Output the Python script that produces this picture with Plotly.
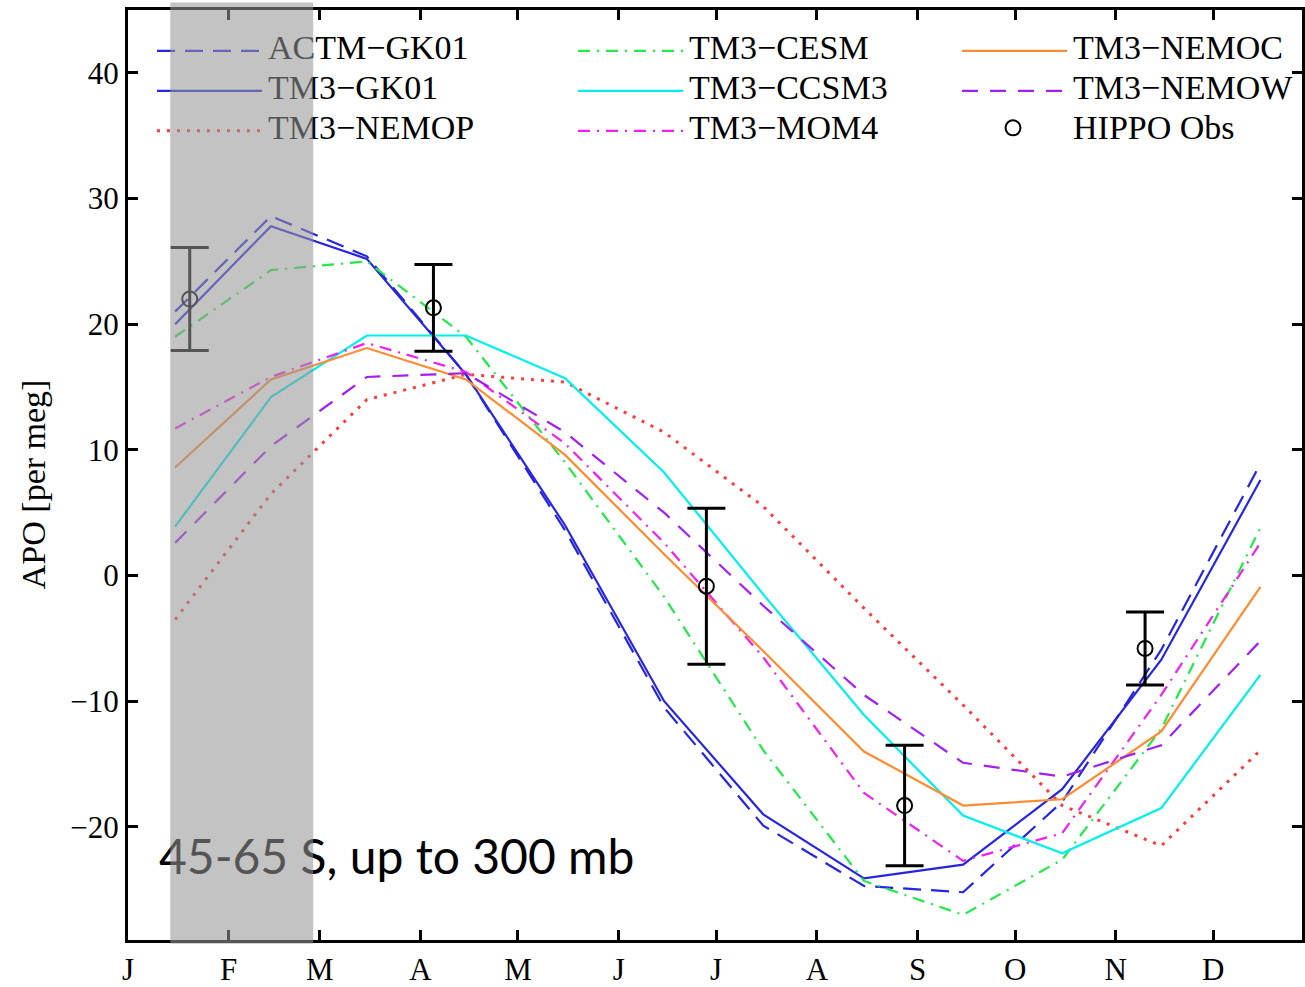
import plotly.graph_objects as go

# Month axis (day of year)
months = ["J", "F", "M", "A", "M", "J", "J", "A", "S", "O", "N", "D"]
month_start = [1, 32, 60, 91, 121, 152, 182, 213, 244, 274, 305, 335]
month_mid = [15.5, 45, 74.5, 105, 135.5, 166, 196.5, 227.5, 258, 288.5, 319, 349.5]

# Modelled APO seasonal cycles [per meg]
actm_gk01 = [21.0, 28.6, 25.4, 16.0, 3.6, -10.5, -19.9, -24.7, -25.2, -18.0, -5.9, 8.9]
tm3_gk01 = [20.0, 27.8, 25.2, 16.0, 4.0, -10.0, -19.0, -24.1, -23.0, -17.0, -6.7, 7.6]
tm3_nemop = [-3.5, 6.5, 14.0, 16.0, 15.4, 11.4, 5.5, -2.6, -10.3, -18.3, -21.5, -13.9]
tm3_cesm = [19.0, 24.3, 25.0, 19.0, 9.0, -1.7, -13.9, -24.3, -27.0, -22.6, -12.2, 3.8]
tm3_ccsm3 = [3.9, 14.2, 19.1, 19.1, 15.7, 8.2, -1.5, -11.1, -19.1, -22.1, -18.5, -7.9]
tm3_mom4 = [11.7, 15.8, 18.5, 16.2, 10.5, 2.6, -6.5, -17.3, -22.7, -20.5, -9.5, 2.6]
tm3_nemoc = [8.6, 15.6, 18.1, 15.6, 9.6, 1.7, -6.0, -14.0, -18.3, -17.8, -12.4, -0.9]
tm3_nemow = [2.6, 10.3, 15.8, 16.1, 11.4, 5.0, -2.4, -9.5, -14.9, -16.0, -13.5, -5.2]

# HIPPO observations
obs_day = [20, 95, 179, 240, 314]
obs_apo = [22.0, 21.3, -0.85, -18.3, -5.8]
obs_err = [4.1, 3.45, 6.2, 4.8, 2.9]

# Shaded period (day of year)
shade_start, shade_end = 14, 58

SERIF = "Liberation Serif, Times New Roman, serif"

series = [
    ("ACTM\u2212GK01", actm_gk01, "#2626e0", "18px,10px", 2.2),
    ("TM3\u2212GK01", tm3_gk01, "#2626e0", "solid", 2.2),
    ("TM3\u2212NEMOP", tm3_nemop, "#ff3b3b", "3px,7px", 3.0),
    ("TM3\u2212CESM", tm3_cesm, "#22e84a", "12px,7px,2px,7px", 2.2),
    ("TM3\u2212CCSM3", tm3_ccsm3, "#00eeee", "solid", 2.2),
    ("TM3\u2212MOM4", tm3_mom4, "#f020f0", "12px,7px,2px,7px", 2.2),
    ("TM3\u2212NEMOC", tm3_nemoc, "#ff8c33", "solid", 2.2),
    ("TM3\u2212NEMOW", tm3_nemow, "#a020f0", "16px,12px", 2.2),
]

fig = go.Figure()

for name, vals, color, dash, lw in series:
    fig.add_trace(go.Scatter(
        x=month_mid, y=vals, mode="lines", name=name, showlegend=False,
        line=dict(color=color, width=lw, dash=dash),
    ))

fig.add_trace(go.Scatter(
    x=obs_day, y=obs_apo, mode="markers", name="HIPPO Obs", showlegend=False,
    marker=dict(symbol="circle-open", size=15, color="black", line=dict(width=2, color="black")),
    error_y=dict(type="data", array=obs_err, visible=True, color="black", thickness=3, width=19),
))

# Legend drawn on a pixel-unit overlay so the shaded band can sit on top of it
col_x = [157, 578, 962]
row_y = [51, 91, 131]
sample_len = 105
text_gap = 111
for i, (name, vals, color, dash, lw) in enumerate(series + [("HIPPO Obs", None, "black", None, 2)]):
    cx, ry = col_x[i // 3], row_y[i % 3]
    if vals is not None:
        fig.add_trace(go.Scatter(
            x=[cx, cx + sample_len], y=[ry, ry], mode="lines", xaxis="x3", yaxis="y3",
            showlegend=False, hoverinfo="skip", line=dict(color=color, width=lw, dash=dash),
        ))
    else:
        fig.add_trace(go.Scatter(
            x=[cx + 51], y=[ry - 3], mode="markers", xaxis="x3", yaxis="y3",
            showlegend=False, hoverinfo="skip",
            marker=dict(symbol="circle-open", size=15, color="black", line=dict(width=2, color="black")),
        ))
    fig.add_trace(go.Scatter(
        x=[cx + text_gap], y=[ry], mode="text", text=[name], textposition="middle right",
        xaxis="x3", yaxis="y3", showlegend=False, hoverinfo="skip", cliponaxis=False,
        textfont=dict(family=SERIF, size=34, color="black"),
    ))

fig.add_trace(go.Scatter(
    x=[159], y=[863], mode="text", text=["45-65 S, up to 300 mb"], textposition="middle right",
    xaxis="x3", yaxis="y3", showlegend=False, hoverinfo="skip", cliponaxis=False,
    textfont=dict(family="Lato, sans-serif", size=48, color="black"),
))

fig.add_shape(
    type="rect", xref="x", yref="paper", x0=shade_start, x1=shade_end, y0=-0.004, y1=1.008,
    fillcolor="rgba(150,150,150,0.57)", line=dict(width=0), layer="above",
)

# Y-axis title
fig.add_annotation(
    text="APO [per meg]", textangle=-90, showarrow=False,
    xref="paper", yref="paper", x=-0.081, y=0.49, xanchor="center", yanchor="middle",
    font=dict(family=SERIF, size=34, color="black"),
)

axis_common = dict(
    showgrid=False, zeroline=False, showline=True, linecolor="black", linewidth=3,
    ticks="inside", ticklen=10, tickwidth=3, tickcolor="black", mirror="ticks",
    tickfont=dict(family=SERIF, size=31, color="black"),
)

fig.update_layout(
    width=1305, height=987,
    margin=dict(l=128, r=0, t=10, b=46),
    paper_bgcolor="white", plot_bgcolor="white",
    showlegend=False,
    xaxis=dict(range=[1, 362.3], tickvals=month_start, ticktext=months, **axis_common),
    yaxis=dict(range=[-29.0, 45.0], tickvals=[-20, -10, 0, 10, 20, 30, 40], **axis_common),
    xaxis3=dict(overlaying="x", range=[128, 1302], visible=False),
    yaxis3=dict(overlaying="y", range=[941, 10], visible=False),
)

fig.write_html("out.html")
